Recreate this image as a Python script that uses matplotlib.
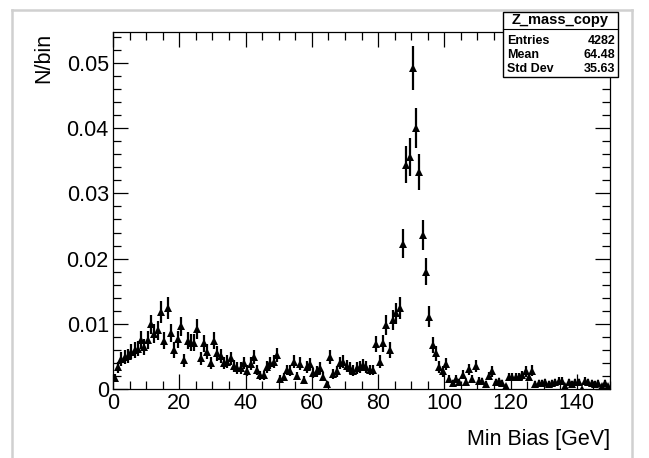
import numpy as np
import matplotlib
matplotlib.use("Agg")
import matplotlib.pyplot as plt
from matplotlib.ticker import MultipleLocator
from matplotlib.patches import Rectangle
from matplotlib.lines import Line2D

plt.rcParams['font.family'] = ['Liberation Sans', 'DejaVu Sans']

# histogram content, 1 GeV bins from 0 to 150
bin_lo = 0.0
bin_width = 1.0
n_per_bin = [
    0.0017, 0.0033, 0.0046, 0.0049, 0.0051, 0.0057, 0.0060, 0.0062, 0.0075, 0.0065,
    0.0075, 0.0099, 0.0085, 0.0090, 0.0118, 0.0074, 0.0124, 0.0086, 0.0060, 0.0076,
    0.0096, 0.0044, 0.0074, 0.0071, 0.0071, 0.0092, 0.0047, 0.0070, 0.0057, 0.0040,
    0.0074, 0.0055, 0.0051, 0.0040, 0.0042, 0.0047, 0.0035, 0.0032, 0.0032, 0.0040,
    0.0028, 0.0039, 0.0049, 0.0029, 0.0021, 0.0021, 0.0034, 0.0040, 0.0042, 0.0052,
    0.0016, 0.0018, 0.0029, 0.0028, 0.0042, 0.0020, 0.0039, 0.0014, 0.0034, 0.0038,
    0.0024, 0.0027, 0.0032, 0.0019, 0.0008, 0.0049, 0.0023, 0.0027, 0.0040, 0.0042,
    0.0035, 0.0032, 0.0028, 0.0032, 0.0034, 0.0037, 0.0034, 0.0029, 0.0029, 0.0069,
    0.0042, 0.0070, 0.0098, 0.0060, 0.0106, 0.0116, 0.0124, 0.0223, 0.0344, 0.0356,
    0.0492, 0.0400, 0.0333, 0.0236, 0.0180, 0.0111, 0.0067, 0.0055, 0.0034, 0.0027,
    0.0038, 0.0016, 0.0009, 0.0016, 0.0011, 0.0022, 0.0010, 0.0030, 0.0015, 0.0036,
    0.0013, 0.0012, 0.0008, 0.0020, 0.0027, 0.0010, 0.0012, 0.0009, 0.0004, 0.0018,
    0.0018, 0.0018, 0.0018, 0.0021, 0.0027, 0.0018, 0.0028, 0.0008, 0.0009, 0.0009,
    0.0010, 0.0008, 0.0009, 0.0010, 0.0013, 0.0013, 0.0005, 0.0010, 0.0008, 0.0011,
    0.0010, 0.0000, 0.0013, 0.0010, 0.0009, 0.0008, 0.0009, 0.0005, 0.0009, 0.0005,
]
entries = 4282
stat_names = ["Entries", "Mean", "Std Dev"]
stat_values = ["4282", "64.48", "35.63"]
hist_name = "Z_mass_copy"

vals = np.array(n_per_bin)
centers = bin_lo + bin_width * (np.arange(vals.size) + 0.5)
errs = np.sqrt(vals / entries)  # poisson errors of the normalised histogram

W, H = 649, 458
fig = plt.figure(figsize=(W / 100, H / 100), dpi=100)
ax = fig.add_axes([113 / W, 1 - 389 / H, 497 / W, 357 / H])

ax.errorbar(centers, vals, yerr=errs, fmt='^', color='black', ms=5.5,
            elinewidth=1.6, capsize=0, mew=0)

ax.set_xlim(0, 150)
ax.set_ylim(0, 0.05475)
ax.xaxis.set_major_locator(MultipleLocator(20))
ax.xaxis.set_minor_locator(MultipleLocator(5))
ax.yaxis.set_minor_locator(MultipleLocator(0.002))
ax.tick_params(which='both', direction='in', top=True, right=True, width=0.9)
ax.tick_params(which='major', labelsize=15.5)
ax.tick_params(axis='x', which='major', length=11, pad=3)
ax.tick_params(axis='x', which='minor', length=6)
ax.tick_params(axis='y', which='major', length=11, pad=3)
ax.tick_params(axis='y', which='minor', length=6)
ax.set_yticks(np.arange(0, 0.051, 0.01))
ax.set_yticklabels(['0', '0.01', '0.02', '0.03', '0.04', '0.05'])
for s in ax.spines.values():
    s.set_linewidth(0.9)

fig.text(610 / W, 1 - 439 / H, "Min Bias [GeV]", ha='right', va='center', fontsize=15.5)
fig.text(44 / W, 1 - 33 / H, "N/bin", rotation=90, ha='center', va='top', fontsize=15.5)

# stats box
bx0, bx1, by0, by1 = 503, 618, 12, 77
fig.patches.append(Rectangle((bx0 / W, 1 - by1 / H), (bx1 - bx0) / W, (by1 - by0) / H,
                             transform=fig.transFigure, facecolor='white',
                             edgecolor='black', lw=1.0, zorder=5))
fig.lines.append(Line2D([bx0 / W, bx1 / W], [1 - 28.5 / H, 1 - 28.5 / H],
                        transform=fig.transFigure, color='black', lw=0.8, zorder=6))
fig.text((bx0 + bx1) / 2 / W, 1 - 20 / H, hist_name, ha='center', va='center',
         fontsize=10.5, fontweight='bold', zorder=7)
for i, (nm, v) in enumerate(zip(stat_names, stat_values)):
    y = 1 - (41 + i * 14) / H
    fig.text((bx0 + 4) / W, y, nm, ha='left', va='center', fontsize=9,
             fontweight='bold', zorder=7)
    fig.text((bx1 - 3) / W, y, v, ha='right', va='center', fontsize=9,
             fontweight='bold', zorder=7)

# light grey canvas frame of the screenshot
gc = '#d0d0d0'
fig.lines.append(Line2D([12 / W, 12 / W], [0, 1 - 10 / H], transform=fig.transFigure, color=gc, lw=1.8))
fig.lines.append(Line2D([12 / W, 632 / W], [1 - 10 / H, 1 - 10 / H], transform=fig.transFigure, color=gc, lw=1.8))
fig.lines.append(Line2D([632 / W, 632 / W], [0, 1 - 10 / H], transform=fig.transFigure, color=gc, lw=1.8))

fig.savefig("out.png", dpi=100)
